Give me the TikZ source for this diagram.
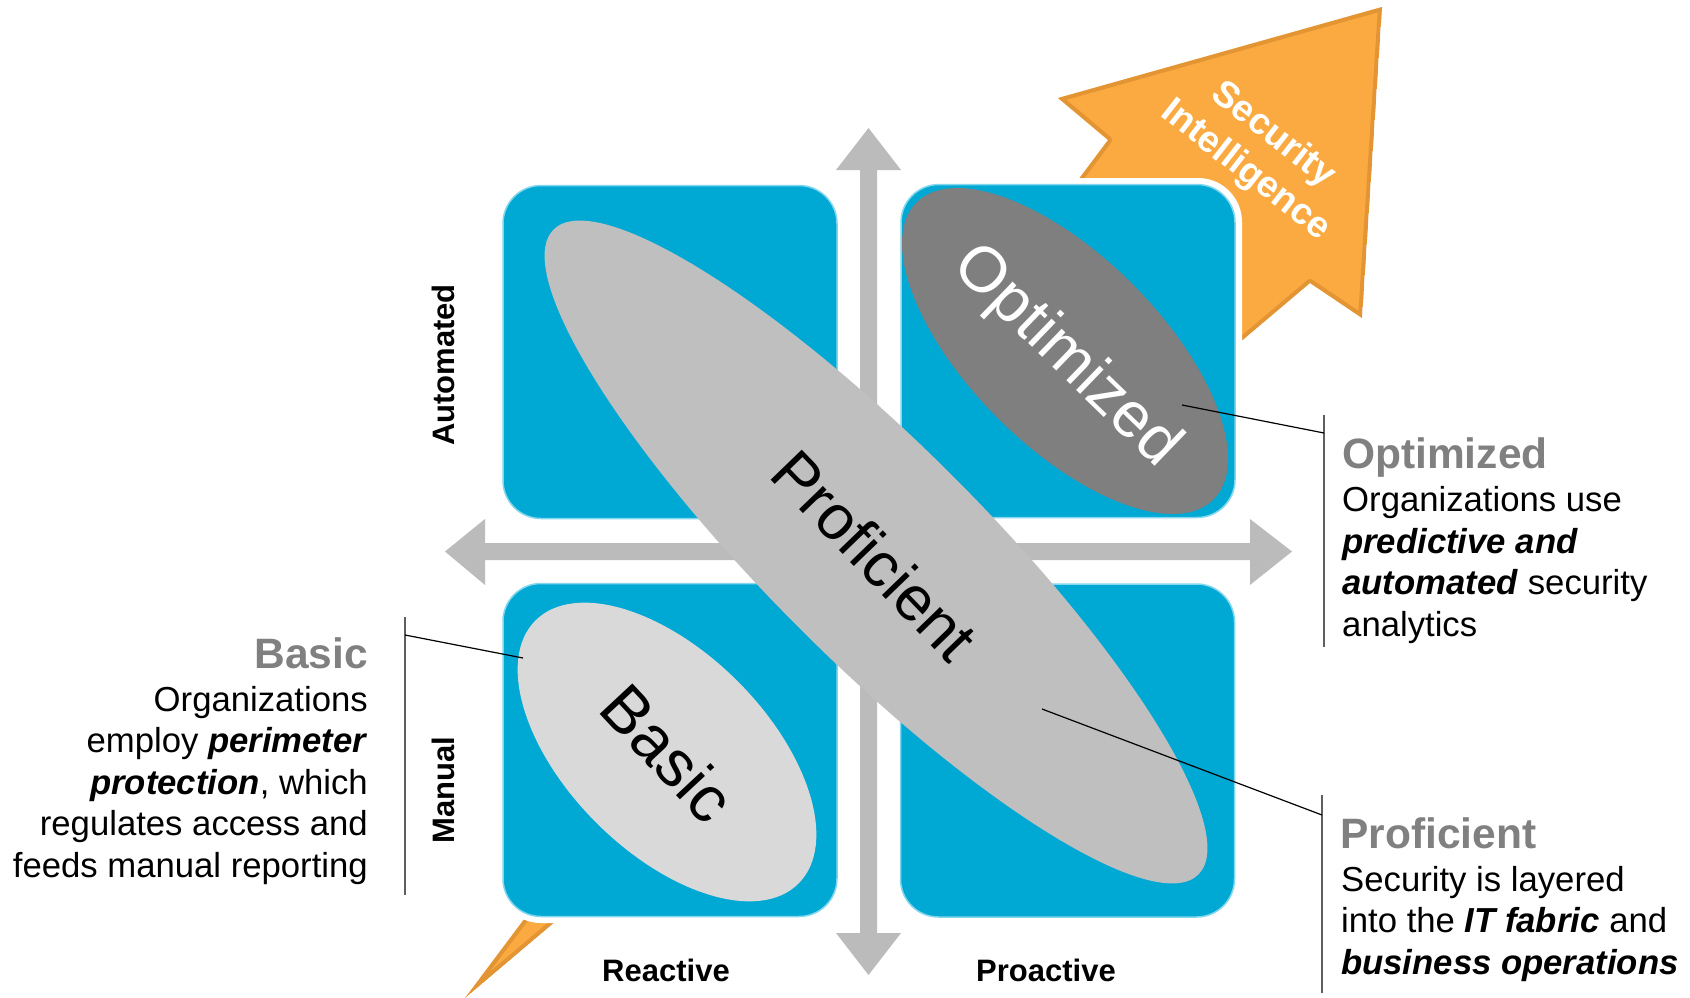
\documentclass[tikz,border=0pt]{standalone}
\usepackage{fontspec}
\setmainfont{Liberation Sans}
\definecolor{boxblue}{RGB}{0,168,212}
\definecolor{boxedge}{RGB}{130,215,238}
\definecolor{arrgray}{RGB}{187,187,187}
\definecolor{orng}{RGB}{250,170,64}
\definecolor{orngdark}{RGB}{200,122,36}
\definecolor{profgray}{RGB}{191,191,191}
\definecolor{optgray}{RGB}{127,127,127}
\definecolor{basgray}{RGB}{217,217,217}
\definecolor{headgray}{RGB}{128,128,128}
\definecolor{brk}{RGB}{95,95,95}
\begin{document}
\begin{tikzpicture}[x=1pt,y=-1pt,
  quadbox/.style={rectangle, rounded corners=38pt, fill=boxblue, draw=boxedge,
    line width=1.5pt, minimum width=334pt, minimum height=333pt, inner sep=0pt,
    preaction={draw=white, line width=12pt}},
  axlbl/.style={font=\bfseries\fontsize{31}{36}\selectfont, inner sep=0pt},
  ovltxt/.style={font=\fontsize{63}{63}\selectfont, inner sep=0pt},
  headtxt/.style={font=\bfseries\fontsize{42.5}{48}\selectfont, text=headgray, inner sep=0pt},
  bodytxt/.style={font=\fontsize{34.7}{41.5}\selectfont, inner sep=0pt},
  bracketline/.style={draw=brk, line width=1.5pt},
  leader/.style={draw=black, line width=1.2pt}]
\useasboundingbox (0,0) rectangle (1690,998);

% orange arrow (behind)
\begin{scope}
\clip (465,998) -- (1108,140) -- (1058,98) -- (1382,7) -- (1362,318) -- (1310,283) -- cycle;
\fill[orng] (465,998) -- (1108,140) -- (1058,98) -- (1382,7) -- (1362,318) -- (1310,283) -- cycle;
\draw[orngdark, line width=8pt, opacity=0.45, line join=round] (465,998) -- (1108,140) -- (1058,98) -- (1382,7) -- (1362,318) -- (1310,283) -- cycle;
\end{scope}
\node[rotate=-38, text=white, font=\bfseries\fontsize{37}{45}\selectfont, align=center, inner sep=0pt] (si) at (1259,153) {Security\\Intelligence};

% white backdrop of the grid
\fill[white, rounded corners=44pt] (497,178) rectangle (1242,923);

% gray axes
\fill[arrgray] (485,543) -- (1250,543) -- (1250,519) -- (1292,551.5) -- (1250,585) -- (1250,560)
  -- (485,560) -- (485,585) -- (445,551.5) -- (485,519) -- cycle;
\fill[arrgray] (860,170) -- (836,170) -- (868.5,128) -- (901,170) -- (877,170) -- (877,933)
  -- (901,933) -- (868.5,975) -- (836,933) -- (860,933) -- cycle;

% quadrant boxes
\node[quadbox] (tl) at (670,352) {};
\node[quadbox] (tr) at (1068,351) {};
\node[quadbox] (bl) at (670,750) {};
\node[quadbox] (br) at (1067.5,750.5) {};

% ellipses
\fill[basgray, rotate around={-45:(667,752)}] (667,752) ellipse [x radius=186pt, y radius=100pt];
\fill[optgray, rotate around={-45:(1065,351)}] (1065,351) ellipse [x radius=210pt, y radius=95pt];
\fill[profgray, rotate around={-45:(876,552)}] (876,552) ellipse [x radius=456pt, y radius=108pt];

\node[ovltxt, rotate=-46] (proft) at (875,555) {Proficient};
\node[ovltxt, rotate=-44, text=white, font=\fontsize{64}{64}\selectfont] (optt) at (1066,357) {Optimized};
\node[ovltxt, rotate=-47, font=\fontsize{65}{65}\selectfont] (bast) at (668,753) {Basic};

% axis labels
\node[axlbl, rotate=90] (auto) at (443,365) {Automated};
\node[axlbl, rotate=90] (man) at (443,790) {Manual};
\node[axlbl] (react) at (666,970) {Reactive};
\node[axlbl] (proact) at (1046,970) {Proactive};

% side texts (base anchor of a multi-line node = last baseline)
\node[headtxt, anchor=base west] (opth) at (1342,468) {Optimized};
\node[bodytxt, anchor=base west, align=left] (optb) at (1342,636)
  {Organizations use\\\textbf{\textit{predictive and}}\\\textbf{\textit{automated}} security\\analytics};
\node[headtxt, anchor=base west] (profh) at (1340,848) {Proficient};
\node[bodytxt, anchor=base west, align=left] (profb) at (1341,974)
  {Security is layered\\into the \textbf{\textit{IT fabric}} and\\\textbf{\textit{business operations}}};
\node[headtxt, anchor=base east] (bash) at (368,668) {Basic};
\node[bodytxt, anchor=base east, align=right] (basb) at (368,877)
  {Organizations\\employ \textbf{\textit{perimeter}}\\\textbf{\textit{protection}}, which\\regulates access and\\feeds manual reporting};

% brackets and leaders
\coordinate (b1t) at (405,617); \coordinate (b1b) at (405,895);
\coordinate (b1l) at (405,635); \coordinate (b1e) at (523,658);
\coordinate (b2t) at (1324,415); \coordinate (b2b) at (1324,647);
\coordinate (b2l) at (1324,433); \coordinate (b2e) at (1182,405);
\coordinate (b3t) at (1322,795); \coordinate (b3b) at (1322,993);
\coordinate (b3l) at (1322,815); \coordinate (b3e) at (1042,709);
\draw[bracketline] (b1t) -- (b1b);
\draw[bracketline] (b2t) -- (b2b);
\draw[bracketline] (b3t) -- (b3b);
\draw[leader] (b1l) -- (b1e);
\draw[leader] (b2l) -- (b2e);
\draw[leader] (b3l) -- (b3e);
\end{tikzpicture}
\end{document}
